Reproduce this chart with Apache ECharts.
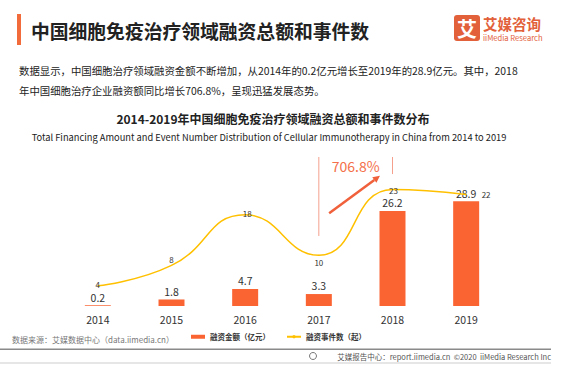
<!DOCTYPE html>
<html>
<head>
<meta charset="utf-8">
<script src="https://cdn.jsdelivr.net/npm/echarts@6/dist/echarts.min.js"></script>
<style>
html,body{margin:0;padding:0;background:#fff;}
#main{width:565px;height:366px;}
</style>
</head>
<body>
<div id="main"></div>
<script>
// ---- data ----
const years = ['2014', '2015', '2016', '2017', '2018', '2019'];
const amount = [0.2, 1.8, 4.7, 3.3, 26.2, 28.9];
const events = [4, 8, 18, 10, 23, 22];
const seriesNames = ['融资金额（亿元）', '融资事件数（起）'];
const headerTitle = '中国细胞免疫治疗领域融资总额和事件数';
const paraLine1 = '数据显示，中国细胞治疗领域融资金额不断增加，从2014年的0.2亿元增长至2019年的28.9亿元。其中，2018';
const paraLine2 = '年中国细胞治疗企业融资额同比增长706.8%，呈现迅猛发展态势。';
const chartTitle = '2014-2019年中国细胞免疫治疗领域融资总额和事件数分布';
const chartSubtitle = 'Total Financing Amount and Event Number Distribution of Cellular Immunotherapy in China from 2014 to 2019';
const growthText = '706.8%';
const sourceText = '数据来源：艾媒数据中心（data.iimedia.cn）';
const footerText = '艾媒报告中心：report.iimedia.cn  ©2020  iiMedia Research Inc';

// ---- styles ----
const FONT = '"Noto Sans CJK SC", "Noto Sans", sans-serif';
const BAR_COLOR = '#FA6432';
const LINE_COLOR = '#FFC000';
const ORANGE = '#E2603A';
const eventLabelStyle = [
  {position: 'top', distance: 0, offset: [0, 3]},
  {position: 'top', distance: 1},
  {position: 'top', distance: 0, offset: [2, 3]},
  {position: 'bottom', distance: 3},
  {position: 'inside', offset: [1, 1]},
  {position: 'right', distance: 15}
];

const chart = echarts.init(document.getElementById('main'), null, {renderer: 'svg'});

const staticGraphics = [
  {type: 'rect', shape: {x: 17, y: 14, width: 4, height: 31}, style: {fill: '#F26B3A'}},
  {type: 'text', x: 31, y: 30, style: {text: headerTitle, font: 'bold 18.8px ' + FONT, fill: '#222', verticalAlign: 'middle'}},
  {type: 'rect', shape: {x: 454, y: 15, width: 26, height: 26, r: 3}, style: {fill: ORANGE}},
  {type: 'text', x: 467, y: 28.5, style: {text: '艾', font: 'bold 20px ' + FONT, fill: '#fff', align: 'center', verticalAlign: 'middle'}},
  {type: 'text', x: 483, y: 23, style: {text: '艾媒咨询', font: 'bold 14.5px ' + FONT, fill: ORANGE, verticalAlign: 'middle'}},
  {type: 'text', x: 483, y: 37.5, style: {text: 'iiMedia Research', font: '7.6px ' + FONT, fill: ORANGE, verticalAlign: 'middle'}},
  {type: 'text', x: 19, y: 70, style: {text: paraLine1, font: '10.4px ' + FONT, fill: '#222', verticalAlign: 'middle'}},
  {type: 'text', x: 19, y: 90, style: {text: paraLine2, font: '10.4px ' + FONT, fill: '#222', verticalAlign: 'middle'}},
  {type: 'text', x: 273, y: 118, style: {text: chartTitle, font: 'bold 12px ' + FONT, fill: '#222', align: 'center', verticalAlign: 'middle'}},
  {type: 'text', x: 269, y: 137, style: {text: chartSubtitle, font: '9.3px ' + FONT, fill: '#222', align: 'center', verticalAlign: 'middle'}},
  {type: 'text', x: 12, y: 339, style: {text: sourceText, font: '8px ' + FONT, fill: '#777', verticalAlign: 'middle'}},
  {type: 'rect', shape: {x: 0, y: 348.5, width: 551, height: 1.5}, style: {fill: '#8a8a8a'}},
  {type: 'rect', shape: {x: 0, y: 362, width: 551, height: 2}, style: {fill: '#e6e6e6'}},
  {type: 'circle', shape: {cx: 313, cy: 356, r: 3.5}, style: {fill: 'none', stroke: '#777', lineWidth: 1}},
  {type: 'text', x: 551, y: 356, style: {text: footerText, font: '7.5px ' + FONT, fill: '#555', align: 'right', verticalAlign: 'middle'}}
];

chart.setOption({
  animation: false,
  textStyle: {fontFamily: FONT},
  grid: {left: 61, right: 62, top: 161, bottom: 60},
  legend: {
    left: 191, top: 333, padding: 0, itemWidth: 14, itemHeight: 4, itemGap: 16,
    textStyle: {fontSize: 7.5, fontWeight: 'bold', color: '#333', fontFamily: FONT},
    data: [{name: seriesNames[0], icon: 'rect'}, {name: seriesNames[1]}]
  },
  xAxis: {
    type: 'category', data: years,
    axisLine: {show: false}, axisTick: {show: false},
    axisLabel: {color: '#333', fontSize: 10.5, margin: 8, fontFamily: FONT}
  },
  yAxis: [
    {type: 'value', min: 0, max: 40, show: false, splitLine: {show: false}},
    {type: 'value', min: 0, max: 28.6, show: false, splitLine: {show: false}}
  ],
  series: [
    {
      name: seriesNames[0], type: 'bar', data: amount, barWidth: 26,
      itemStyle: {color: BAR_COLOR},
      label: {show: true, position: 'top', distance: 3, color: '#333', fontSize: 10.5, fontFamily: FONT}
    },
    {
      name: seriesNames[1], type: 'line', yAxisIndex: 1, smooth: 0.5,
      data: events.map((v, i) => ({value: v, label: eventLabelStyle[i]})),
      symbol: 'circle', symbolSize: 1,
      lineStyle: {color: LINE_COLOR, width: 1.5},
      itemStyle: {color: LINE_COLOR},
      label: {show: true, color: '#333', fontSize: 8, fontFamily: FONT}
    }
  ],
  graphic: staticGraphics
});

// annotation placed via the chart's own scales
const px = (catIdx) => {
  const a = chart.convertToPixel({xAxisIndex: 0}, years[Math.floor(catIdx)]);
  const b = chart.convertToPixel({xAxisIndex: 0}, years[Math.min(Math.floor(catIdx) + 1, years.length - 1)]);
  return a + (b - a) * (catIdx - Math.floor(catIdx));
};
const py = (v) => chart.convertToPixel({yAxisIndex: 0}, v);

const x17 = px(3), x18 = px(4);
const annot = [
  {type: 'line', shape: {x1: x17, y1: py(41.1), x2: x17, y2: py(19.3)}, style: {stroke: '#F4A08C', lineWidth: 1}},
  {type: 'line', shape: {x1: x18, y1: py(41.1), x2: x18, y2: py(36.4)}, style: {stroke: '#F4A08C', lineWidth: 1}},
  {type: 'text', x: px(3.5), y: py(38.6), style: {text: growthText, font: '14px ' + FONT, fill: '#F4704A', align: 'center', verticalAlign: 'middle'}}
];
// arrow
const ax1 = px(3.14), ay1 = py(25.6), ax2 = px(3.83), ay2 = py(35.9);
const ang = Math.atan2(ay2 - ay1, ax2 - ax1);
const hl = 7, hw = 3.5;
const bx = ax2 - hl * Math.cos(ang), by = ay2 - hl * Math.sin(ang);
annot.push({type: 'line', shape: {x1: ax1, y1: ay1, x2: bx, y2: by}, style: {stroke: '#F0603A', lineWidth: 2.5}});
annot.push({type: 'polygon', shape: {points: [
  [ax2, ay2],
  [bx + hw * Math.sin(ang), by - hw * Math.cos(ang)],
  [bx - hw * Math.sin(ang), by + hw * Math.cos(ang)]
]}, style: {fill: '#F0603A'}});

chart.setOption({graphic: staticGraphics.concat(annot)});
</script>
</body>
</html>
